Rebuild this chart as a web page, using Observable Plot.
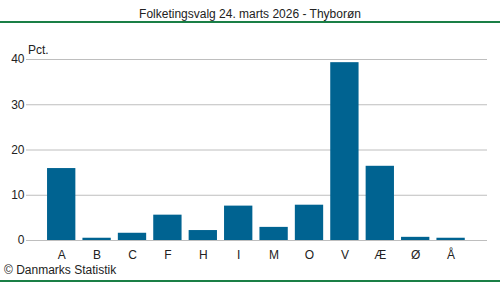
<!DOCTYPE html>
<html>
<head>
<meta charset="utf-8">
<script src="https://cdn.jsdelivr.net/npm/d3@7"></script>
<script src="https://cdn.jsdelivr.net/npm/@observablehq/plot@0.6"></script>
<style>
  html, body { margin: 0; padding: 0; background: #fff; }
  #wrap { position: relative; width: 500px; height: 282px; overflow: hidden; font-family: "Liberation Sans", Arial, sans-serif; color: #222; }
  #title { position: absolute; left: 0; width: 500px; top: 7px; text-align: center; font-size: 12px; line-height: 14px; }
  .green { position: absolute; left: 0; width: 500px; height: 2px; background: #1a7f46; }
  #pct { position: absolute; left: 28px; top: 43px; font-size: 12px; line-height: 14px; }
  #caption { position: absolute; left: 4px; top: 263px; font-size: 12px; line-height: 14px; }
  #chart { position: absolute; left: 0; top: 0; }
</style>
</head>
<body>
<div id="wrap">
  <div id="chart"></div>
  <div id="title">Folketingsvalg 24. marts 2026 - Thyborøn</div>
  <div class="green" style="top:21px"></div>
  <div id="pct">Pct.</div>
  <div id="caption">© Danmarks Statistik</div>
  <div class="green" style="top:280px"></div>
</div>
<script>
const parties = ["A", "B", "C", "F", "H", "I", "M", "O", "V", "Æ", "Ø", "Å"];
const pct = [15.9, 0.5, 1.6, 5.6, 2.2, 7.6, 2.9, 7.8, 39.3, 16.4, 0.7, 0.5];
const yTicks = [0, 10, 20, 30, 40];

const data = parties.map((p, i) => ({party: p, value: pct[i]}));

const chart = Plot.plot({
  width: 500,
  height: 282,
  marginLeft: 26,
  marginRight: 13,
  marginTop: 59,
  marginBottom: 42,
  style: {fontFamily: '"Liberation Sans", Arial, sans-serif', fontSize: "12px", color: "#222", background: "transparent"},
  x: {domain: parties, range: [43.5, 468.3], paddingInner: 0.2, paddingOuter: 0.1, align: 0.5, round: false},
  y: {domain: [0, 40]},
  marks: [
    Plot.ruleY(yTicks, {stroke: "#bebebe", strokeWidth: 1}),
    Plot.barY(data, {x: "party", y: "value", fill: "#006391", insetLeft: 0, insetRight: 0}),
    Plot.axisY(yTicks, {tickSize: 0, tickPadding: 2, label: null, fill: "#222"}),
    Plot.axisX({tickSize: 0, tickPadding: 10, label: null, fill: "#222"})
  ]
});
document.getElementById("chart").appendChild(chart);
</script>
</body>
</html>
